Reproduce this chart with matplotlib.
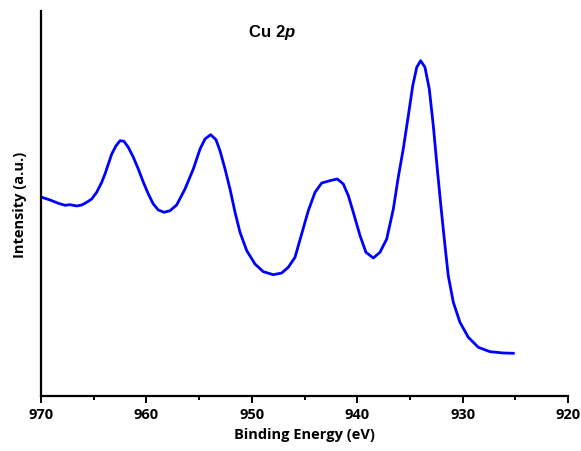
import matplotlib
matplotlib.use("Agg")
import matplotlib.pyplot as plt
from matplotlib.ticker import MultipleLocator

binding_energy = [969.93, 969.15, 968.36, 967.72, 967.25, 966.61, 966.14, 965.66, 965.19, 964.72,
                  964.24, 963.93, 963.61, 963.29, 962.88, 962.50, 962.13, 961.72, 961.24, 960.77,
                  960.29, 959.82, 959.35, 958.87, 958.33, 957.76, 957.13, 956.34, 955.55, 954.91,
                  954.44, 953.90, 953.40, 953.02, 952.54, 952.07, 951.59, 951.12, 950.48, 949.70,
                  948.91, 947.96, 947.16, 946.54, 945.90, 945.27, 944.64, 944.00, 943.37, 942.58,
                  941.89, 941.32, 940.84, 940.37, 939.73, 939.17, 938.47, 937.84, 937.20, 936.57,
                  936.10, 935.63, 935.15, 934.73, 934.35, 933.98, 933.57, 933.16, 932.78, 932.40,
                  932.05, 931.67, 931.36, 930.88, 930.25, 929.46, 928.51, 927.40, 926.14, 925.19]
intensity = [198.7, 196.0, 192.7, 190.7, 191.3, 190.0, 191.0, 193.7, 197.0, 203.7,
             213.7, 222.0, 232.0, 242.0, 250.3, 255.3, 254.7, 248.7, 238.7, 227.0,
             213.7, 202.0, 192.0, 186.0, 183.7, 185.3, 191.0, 207.0, 227.0, 247.0,
             257.0, 261.3, 256.3, 245.3, 227.0, 207.0, 183.7, 163.7, 145.3, 132.0,
             124.3, 121.3, 123.0, 128.7, 138.7, 162.0, 185.3, 203.7, 213.0, 215.3,
             217.0, 212.0, 200.3, 183.7, 160.3, 143.7, 138.0, 143.7, 157.0, 187.0,
             219.0, 247.0, 280.3, 310.3, 328.7, 335.3, 328.7, 307.0, 270.3, 227.0,
             189.0, 150.3, 120.3, 93.7, 73.7, 58.7, 48.7, 44.3, 43.0, 42.7]
x_ticks = [970, 960, 950, 940, 930, 920]

plt.rcParams["mathtext.fontset"] = "custom"
plt.rcParams["mathtext.rm"] = "Liberation Sans"
plt.rcParams["mathtext.bf"] = "Liberation Sans:bold"
plt.rcParams["mathtext.it"] = "Liberation Sans:italic:bold"

font = "Open Sans"
fig = plt.figure(figsize=(5.81, 4.52), dpi=100)
ax = fig.add_axes([0.0706, 0.1217, 0.9070, 0.8518])
ax.plot(binding_energy, intensity, color="#0000ff", lw=2.0, solid_joinstyle="round")
ax.set_xlim(970, 920)
ax.set_ylim(0, 385)
ax.set_xticks(x_ticks)
ax.xaxis.set_minor_locator(MultipleLocator(5))
ax.set_yticks([])
for s in ["top", "right"]:
    ax.spines[s].set_visible(False)
for s in ["left", "bottom"]:
    ax.spines[s].set_linewidth(1.6)
ax.tick_params(axis="x", which="major", direction="out", length=5, width=1.4, pad=3)
ax.tick_params(axis="x", which="minor", direction="out", length=3, width=1.4)
for lbl in ax.get_xticklabels():
    lbl.set_fontfamily(font)
    lbl.set_fontweight("bold")
    lbl.set_fontsize(10.5)
ax.set_xlabel("Binding Energy (eV)", fontfamily=font, fontweight="bold", fontsize=10.5, labelpad=4)
ax.set_ylabel("Intensity (a.u.)", fontfamily=font, fontweight="bold", fontsize=10.5, labelpad=10)
fig.text(272 / 581, 1 - 33 / 452, r"$\mathbf{Cu\ 2}\mathit{p}$", ha="center", va="center",
         fontsize=12)
fig.savefig("out.png", dpi=100)
